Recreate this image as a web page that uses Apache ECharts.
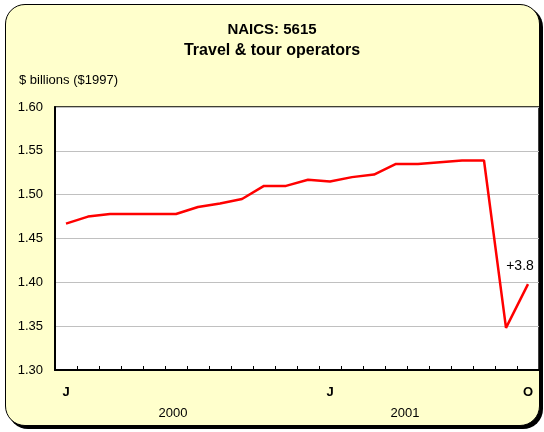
<!DOCTYPE html>
<html>
<head>
<meta charset="utf-8">
<script src="https://cdn.jsdelivr.net/npm/echarts@6/dist/echarts.min.js"></script>
<style>
  html, body { margin: 0; padding: 0; background: #fff; }
  #wrap { position: relative; width: 544px; height: 432px; }
  #frame {
    position: absolute; left: 5px; top: 4px; width: 533px; height: 420px;
    background: #FFFFCC; border: 1.5px solid #000; border-radius: 20px;
    box-shadow: 3px 3px 0 #000;
  }
  #chart { position: absolute; left: 0; top: 0; width: 544px; height: 432px; }
</style>
</head>
<body>
<div id="wrap">
  <div id="frame"></div>
  <div id="chart"></div>
</div>
<script>
  // months Jan 2000 .. Oct 2001
  const months = ['2000-01','2000-02','2000-03','2000-04','2000-05','2000-06',
    '2000-07','2000-08','2000-09','2000-10','2000-11','2000-12',
    '2001-01','2001-02','2001-03','2001-04','2001-05','2001-06',
    '2001-07','2001-08','2001-09','2001-10']
  const monthLetters = ['J','F','M','A','M','J','J','A','S','O','N','D']
  // $ billions ($1997)
  const values = [1.467, 1.475, 1.478, 1.478, 1.478, 1.478, 1.486, 1.490, 1.495, 1.510, 1.510, 1.517,
    1.515, 1.520, 1.523, 1.535, 1.535, 1.537, 1.539, 1.539, 1.348, 1.398]
  const shownMonths = [0, 12, 21]
  const yearLabels = { 5: '{a|2000}', 15: '{b|2001}' }
  const lastNote = '+3.8'

  const chart = echarts.init(document.getElementById('chart'))
  const font = 'Liberation Sans, Arial, sans-serif'

  const seriesData = values.map((v, i) => {
    if (i !== values.length - 1) return v
    return {
      value: v,
      label: {
        show: true, position: 'top', offset: [-8, -6],
        formatter: lastNote, fontSize: 14, color: '#000', fontFamily: font
      }
    }
  })

  chart.setOption({
    backgroundColor: 'transparent',
    animation: false,
    textStyle: { fontFamily: font },
    title: [
      { text: 'NAICS: 5615', left: 'center', top: 17,
        textStyle: { fontSize: 15, fontWeight: 'bold', color: '#000' } },
      { text: 'Travel & tour operators', left: 'center', top: 38,
        textStyle: { fontSize: 16, fontWeight: 'bold', color: '#000' } },
      { text: '$ billions ($1997)', left: 14, top: 69,
        textStyle: { fontSize: 13, fontWeight: 'normal', color: '#000' } }
    ],
    grid: {
      left: 55, right: 5, top: 107, bottom: 62,
      show: true, backgroundColor: '#fff', borderColor: '#000', borderWidth: 1.5
    },
    xAxis: [{
      type: 'category',
      data: months,
      boundaryGap: true,
      axisLine: { lineStyle: { color: '#000', width: 2 } },
      axisTick: { show: true, inside: true, interval: 0, length: 4, lineStyle: { color: '#000' } },
      axisLabel: {
        interval: (idx) => shownMonths.includes(idx),
        formatter: (v) => monthLetters[Number(v.slice(5)) - 1],
        fontSize: 13, fontWeight: 'bold', color: '#000', margin: 16
      }
    }, {
      type: 'category',
      data: months,
      position: 'bottom',
      boundaryGap: true,
      axisLine: { show: false },
      axisTick: { show: false },
      axisLabel: {
        interval: (idx) => yearLabels[idx] !== undefined,
        formatter: (v, idx) => yearLabels[idx] || '',
        fontSize: 13, color: '#000', margin: 37,
        rich: {
          a: { fontSize: 13, color: '#000', padding: [0, 6, 0, 0] },
          b: { fontSize: 13, color: '#000', padding: [0, 0, 0, 18] }
        }
      }
    }],
    yAxis: {
      type: 'value',
      min: 1.3, max: 1.6, interval: 0.05,
      axisLine: { show: true, lineStyle: { color: '#000', width: 2 } },
      axisTick: { show: false },
      axisLabel: { formatter: (v) => v.toFixed(2), fontSize: 13, color: '#000', margin: 12 },
      splitLine: { lineStyle: { color: '#C0C0C0', width: 1 } }
    },
    series: [{
      type: 'line',
      data: seriesData,
      showSymbol: true,
      symbol: 'circle',
      symbolSize: 0,
      lineStyle: { color: '#FF0000', width: 2.5 },
      itemStyle: { color: '#FF0000' }
    }]
  })
</script>
</body>
</html>
